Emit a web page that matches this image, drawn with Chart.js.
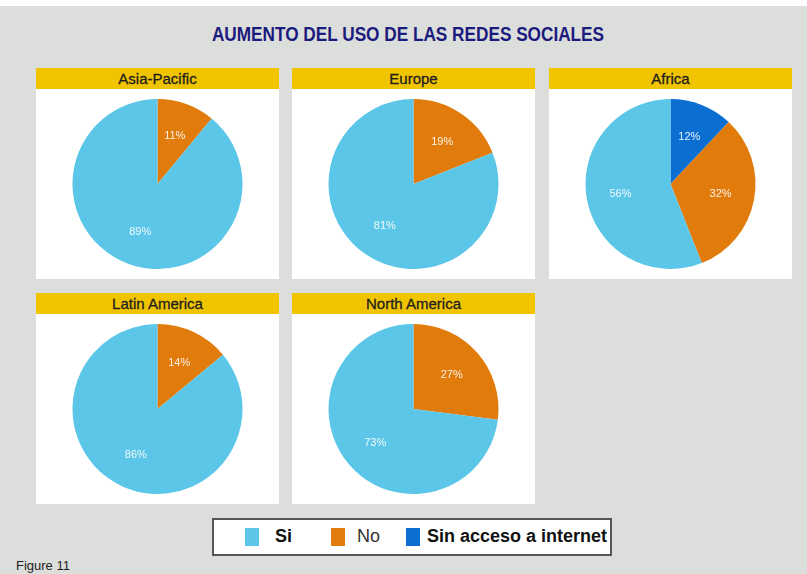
<!DOCTYPE html>
<html>
<head>
<meta charset="utf-8">
<script src="https://cdn.jsdelivr.net/npm/chart.js@4"></script>
<style>
  html, body { margin: 0; padding: 0; }
  body { width: 807px; height: 574px; background: #dcdedb; position: relative; overflow: hidden;
         font-family: "Liberation Sans", Arial, sans-serif; }
  #strip { position: absolute; left: 0; top: 0; width: 807px; height: 6px; background: #fff; }
  #title { position: absolute; left: 0; width: 816px; top: 23px; text-align: center;
           font-family: "Liberation Sans", Arial, sans-serif; font-weight: bold;
           font-size: 20px; color: #1b1a7e; transform: scaleX(0.86); transform-origin: 408px 0; }
  .panel { position: absolute; width: 243px; height: 211px; }
  .head { height: 21px; background: #f1c400; text-align: center; font-size: 15px; line-height: 21px; color: #1e1e1e;
          -webkit-text-stroke: 0.3px #1e1e1e; }
  .body { height: 190px; background: #fff; position: relative; }
  .body canvas { position: absolute; left: 0; top: 0; }
  #legend { position: absolute; left: 212px; top: 518px; width: 396px; height: 34px; background: #fff;
            border: 2px solid #555; font-size: 18px; font-weight: bold; color: #111; }
  .sw { position: absolute; top: 8px; width: 14px; height: 18px; }
  .lt { position: absolute; top: 6px; }
  #fig { position: absolute; left: 16px; top: 558px; font-size: 13px; color: #222; }
</style>
</head>
<body>
<div id="strip"></div>
<div id="title">AUMENTO DEL USO DE LAS REDES SOCIALES</div>
<div id="panels"></div>
<div id="legend">
  <div class="sw" style="left:31px;background:#5bc6e8"></div><div class="lt" style="left:61px">Si</div>
  <div class="sw" style="left:117px;background:#e07b0c"></div><div class="lt" style="left:143px;font-weight:normal;color:#333">No</div>
  <div class="sw" style="left:192px;background:#0b6fd2"></div><div class="lt" style="left:213px">Sin acceso a internet</div>
</div>
<div id="fig">Figure 11</div>
<script>
// categories, drawn clockwise from 12 o'clock
const categories = ['Sin acceso a internet', 'No', 'Si']
const colors = ['#0b6fd2', '#e07b0c', '#5bc6e8']

const regions = ['Asia-Pacific', 'Europe', 'Africa', 'Latin America', 'North America']
const sinAcceso = [0, 0, 12, 0, 0]
const no = [11, 19, 32, 14, 27]
const si = [89, 81, 56, 86, 73]

const panelPos = [[36, 68], [292, 68], [549, 68], [36, 293], [292, 293]]

// white percent labels at 60% of the radius
const pctLabels = {
    id: 'pctLabels',
    afterDatasetsDraw (chart) {
        const ctx = chart.ctx
        const meta = chart.getDatasetMeta(0)
        const vals = chart.data.datasets[0].data
        ctx.save()
        ctx.font = '11px "Liberation Sans", Arial, sans-serif'
        ctx.fillStyle = 'rgba(255,255,255,0.9)'
        ctx.textAlign = 'center'
        ctx.textBaseline = 'middle'
        meta.data.forEach((arc, i) => {
            if (!vals[i]) return
            const mid = (arc.startAngle + arc.endAngle) / 2
            const r = arc.outerRadius * 0.6
            ctx.fillText(vals[i] + '%', arc.x + Math.cos(mid) * r, arc.y + Math.sin(mid) * r)
        })
        ctx.restore()
    }
}

const holder = document.getElementById('panels')
regions.forEach((name, k) => {
    const p = document.createElement('div')
    p.className = 'panel'
    p.style.left = panelPos[k][0] + 'px'
    p.style.top = panelPos[k][1] + 'px'
    p.innerHTML = '<div class="head">' + name + '</div><div class="body"><canvas width="243" height="190"></canvas></div>'
    holder.appendChild(p)
    const c = p.querySelector('canvas')
    new Chart(c, {
        type: 'pie',
        data: {
            labels: categories,
            datasets: [{
                data: [sinAcceso[k], no[k], si[k]],
                backgroundColor: colors,
                borderWidth: 0
            }]
        },
        options: {
            responsive: false,
            animation: false,
            layout: { padding: 10 },
            plugins: { legend: { display: false }, tooltip: { enabled: false } }
        },
        plugins: [pctLabels]
    })
})
</script>
</body>
</html>
